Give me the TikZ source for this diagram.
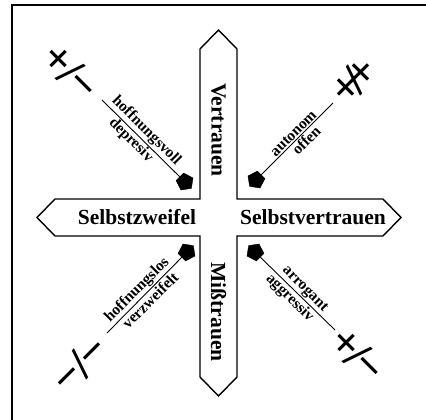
\documentclass[tikz,border=0pt]{standalone}
\usepackage{fontspec}
\setmainfont{Liberation Serif}
\usetikzlibrary{shapes.geometric}
\begin{document}
\begin{tikzpicture}[x=1pt,y=-1pt,
  armlabel/.style={font=\fontsize{21.5}{24}\selectfont\bfseries, inner sep=0pt},
  upperword/.style={font=\fontsize{15.5}{18}\selectfont\bfseries, inner sep=1.5pt, anchor=south},
  lowerword/.style={font=\fontsize{15.5}{18}\selectfont\bfseries, inner sep=1.5pt, anchor=north},
  signword/.style={font=\fontsize{46}{50}\selectfont\bfseries, inner sep=0pt},
  dartend/.style={regular polygon, regular polygon sides=5, fill=black, draw=black,
                  inner sep=0pt, minimum size=18pt},
  guide/.style={line width=0.9pt}]
% page and frame
\useasboundingbox (0,0) rectangle (426,420);
\fill[white] (0,0) rectangle (426,420);
\draw[line width=2pt] (12,420) -- (12,5) -- (426,5);

% four-armed signpost
\draw[line width=1.4pt, line join=miter]
  (218.5,30) -- (237,49) -- (237,199) -- (383,199) -- (401,217.5) -- (383,236)
  -- (237,236) -- (237,377) -- (218.5,396) -- (200,377) -- (200,236) -- (55,236)
  -- (37,217.5) -- (55,199) -- (200,199) -- (200,49) -- cycle;

\node[armlabel, rotate=-90] (vt) at (218.5,130) {Vertrauen};
\node[armlabel, rotate=-90] (mt) at (218.5,312) {Mißtrauen};
\node[armlabel] (sz) at (137,217.5) {Selbstzweifel};
\node[armlabel] (sv) at (313,217.5) {Selbstvertrauen};

% upper left quadrant
\coordinate (tlA) at (102,100);
\node[dartend, rotate=-135] (tlH) at (185,182) {};
\draw[guide] (tlA) -- (tlH);
\node[upperword, rotate=-45] (tlU) at (140,137) {hoffnungsvoll};
\node[lowerword, rotate=-45] (tlL) at (137,134) {depresiv};
\node[signword, rotate=-45] (tlS) at (71,72) {+\kern-2pt/\kern-2pt−};

% upper right quadrant
\coordinate (trA) at (333,103);
\node[dartend, rotate=135] (trH) at (256,180) {};
\draw[guide] (trA) -- (trH);
\node[upperword, rotate=45] (trU) at (298,138) {autonom};
\node[lowerword, rotate=45] (trL) at (301,135) {offen};
\node[signword, rotate=45] (trS) at (354,80) {+\kern-9pt/\kern-9pt+};

% lower left quadrant
\coordinate (blA) at (107,333);
\node[dartend, rotate=-45] (blH) at (187,252) {};
\draw[guide] (blA) -- (blH);
\node[upperword, rotate=45] (blU) at (143.5,296.5) {hoffnungslos};
\node[lowerword, rotate=45] (blL) at (145,295) {verzweifelt};
\node[signword, rotate=45] (blS) at (80,364) {−\kern-2pt/\kern-2pt−};

% lower right quadrant
\coordinate (brA) at (335,330);
\node[dartend, rotate=45] (brH) at (255,252) {};
\draw[guide] (brA) -- (brH);
\node[upperword, rotate=-45] (brU) at (299,295) {arrogant};
\node[lowerword, rotate=-45] (brL) at (296,292) {aggressiv};
\node[signword, rotate=-45] (brS) at (358,355) {+\kern-3pt/\kern-3pt−};
\end{tikzpicture}
\end{document}
